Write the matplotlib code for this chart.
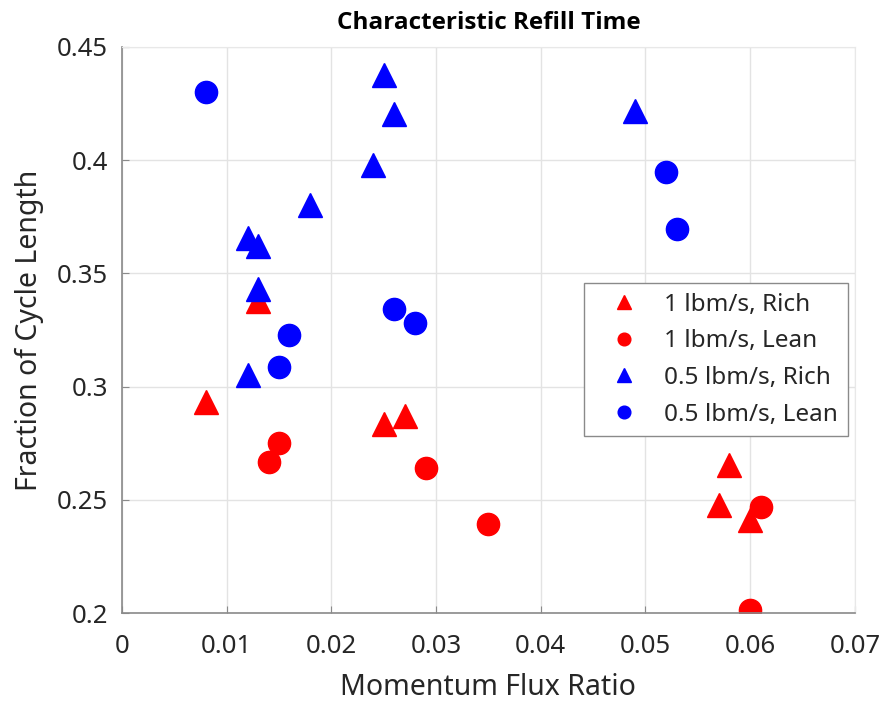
import matplotlib.pyplot as plt
import numpy as np

plt.rcParams['font.family'] = ['Noto Sans', 'DejaVu Sans']

# 1 lbm/s, Rich
x_r1 = [0.008, 0.013, 0.025, 0.027, 0.058, 0.057, 0.060]
y_r1 = [0.293, 0.338, 0.2835, 0.287, 0.2655, 0.2477, 0.241]
# 1 lbm/s, Lean
x_l1 = [0.015, 0.014, 0.029, 0.035, 0.061, 0.060]
y_l1 = [0.275, 0.2667, 0.264, 0.2393, 0.2468, 0.2013]
# 0.5 lbm/s, Rich
x_r05 = [0.025, 0.026, 0.024, 0.018, 0.012, 0.013, 0.013, 0.012, 0.049]
y_r05 = [0.4375, 0.4202, 0.398, 0.380, 0.3656, 0.362, 0.343, 0.305, 0.4217]
# 0.5 lbm/s, Lean
x_l05 = [0.008, 0.052, 0.053, 0.026, 0.028, 0.016, 0.015]
y_l05 = [0.430, 0.3948, 0.3696, 0.3343, 0.3281, 0.3228, 0.3087]

labels = ['1 lbm/s, Rich', '1 lbm/s, Lean', '0.5 lbm/s, Rich', '0.5 lbm/s, Lean']

fig = plt.figure(figsize=(8.84, 7.01), dpi=100)
ax = fig.add_axes([0.138, 0.1255, 0.829, 0.8075])

ax.plot(x_r1, y_r1, linestyle='none', marker='^', color='red', markersize=17, label=labels[0])
ax.plot(x_l1, y_l1, linestyle='none', marker='o', color='red', markersize=16, label=labels[1])
ax.plot(x_r05, y_r05, linestyle='none', marker='^', color='blue', markersize=17, label=labels[2])
ax.plot(x_l05, y_l05, linestyle='none', marker='o', color='blue', markersize=16, label=labels[3])

ax.set(xlim=(0, 0.07), ylim=(0.2, 0.45),
       xticks=np.linspace(0, 0.07, 8), yticks=np.linspace(0.2, 0.45, 6))
ax.set_xticklabels(['0', '0.01', '0.02', '0.03', '0.04', '0.05', '0.06', '0.07'])
ax.set_yticklabels(['0.2', '0.25', '0.3', '0.35', '0.4', '0.45'])
ax.grid(True, color='#e3e3e3', linewidth=1.0)
ax.set_axisbelow(True)
for s in ['top', 'right']:
    ax.spines[s].set_color('#e8e8e8')
for s in ['left', 'bottom']:
    ax.spines[s].set_color('#8a8a8a')
    ax.spines[s].set_linewidth(1.2)
ax.tick_params(direction='in', length=5, colors='#8a8a8a', labelcolor='#262626',
               labelsize=18.5, top=False, right=False)
ax.tick_params(axis='y', pad=10)
ax.tick_params(axis='x', pad=15)

ax.set_xlabel('Momentum Flux Ratio', fontsize=20.5, color='#262626', labelpad=10)
ax.set_ylabel('Fraction of Cycle Length', fontsize=20.5, color='#262626', labelpad=9)
ax.set_title('Characteristic Refill Time', fontsize=17.5, fontweight='bold', pad=13,
             family=['Open Sans', 'DejaVu Sans'])

leg = ax.legend(loc='upper left', bbox_to_anchor=(584 / 884, 1 - 283 / 701),
                bbox_transform=fig.transFigure, fontsize=17.5, markerscale=0.57,
                fancybox=False, edgecolor='#8a8a8a', framealpha=1,
                handlelength=2.5, handletextpad=0.4, labelspacing=0.52,
                borderpad=0.4, borderaxespad=0)
leg.get_frame().set_linewidth(1.0)
for t in leg.get_texts():
    t.set_color('#262626')

fig.savefig('out.png', dpi=100)
